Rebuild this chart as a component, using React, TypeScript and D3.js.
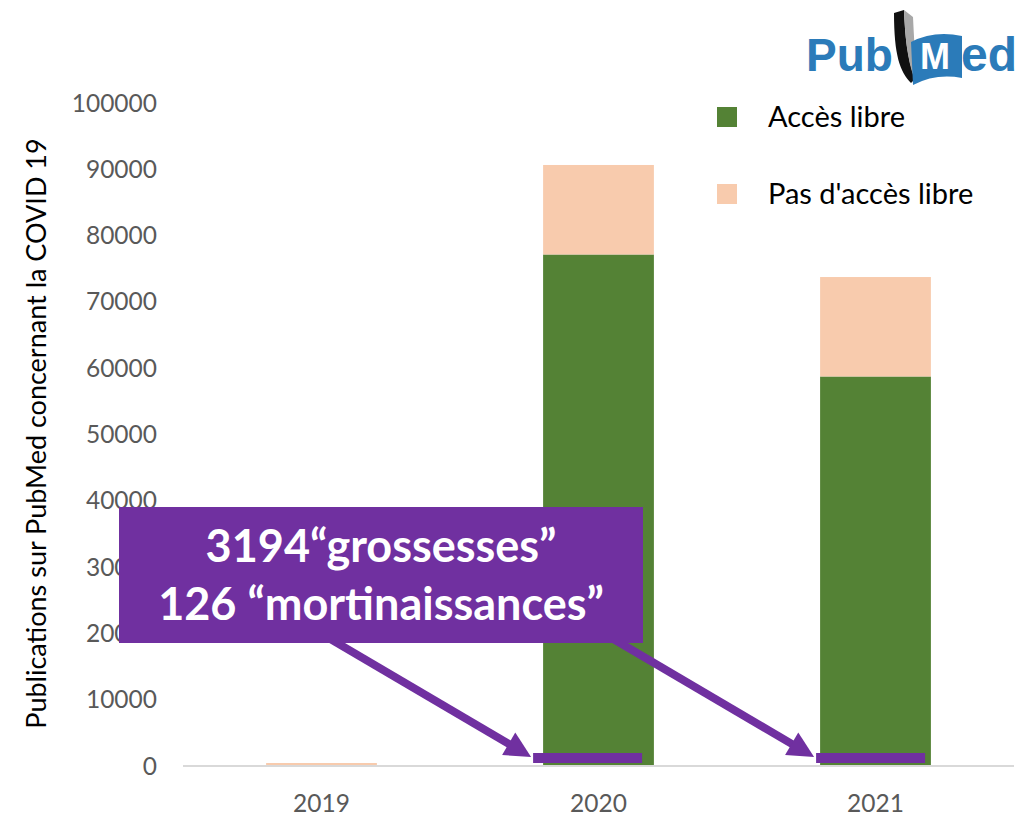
import React from 'react';
import * as d3 from 'd3';

// ---------- data ----------
const years = ['2019', '2020', '2021'];
const openAccess = [0, 77000, 58600];
const notOpenAccess = [300, 13500, 15000];
const seriesKeys = ['open', 'closed'];
const seriesNames = ['Accès libre', "Pas d'accès libre"];
const seriesColors = ['#548235', '#F8CBAD'];
const yTicks = [0, 10000, 20000, 30000, 40000, 50000, 60000, 70000, 80000, 90000, 100000];
const yTitle = 'Publications sur PubMed concernant la COVID 19';
const calloutLines = ['3194“grossesses”', '126 “mortinaissances”'];
const markedYears = ['2020', '2021'];

const W = 1025;
const H = 815;
const FONT = 'Lato, Carlito, Calibri, "Open Sans", sans-serif';
const PURPLE = '#7030A0';

export default function App() {
  const rows = years.map((y, i) => ({ year: y, open: openAccess[i], closed: notOpenAccess[i] }));
  const stack = d3.stack<any>().keys(seriesKeys)(rows);

  const x = d3.scaleBand<string>().domain(years).range([183, 1014]).paddingInner(0.6).paddingOuter(0.3);
  const y = d3.scaleLinear().domain([0, 100000]).range([765, 102]);
  const bw = x.bandwidth();

  // annotation markers & arrows (hand-drawn shapes in the original)
  const markerOffsets = [-10, -4];
  const arrows = markedYears.map((yr, i) => {
    const x0 = (x(yr) as number) + markerOffsets[i];
    const tipX = x0 - 2;
    const tipY = 757;
    const dx = 194, dy = 114;
    const len = Math.hypot(dx, dy);
    const ux = dx / len, uy = dy / len;
    const headLen = 26, headHalf = 13;
    const baseX = tipX - ux * headLen, baseY = tipY - uy * headLen;
    const px = -uy, py = ux;
    const startX = tipX - ux * 330, startY = tipY - uy * 330;
    return {
      x0,
      line: { x1: startX, y1: startY, x2: baseX + ux * 2, y2: baseY + uy * 2 },
      head: `M${tipX},${tipY} L${baseX + px * headHalf},${baseY + py * headHalf} L${baseX - px * headHalf},${baseY - py * headHalf} Z`,
    };
  });

  return (
    <svg width={W} height={H} style={{ position: 'absolute', left: 0, top: 0, background: '#fff' }} fontFamily={FONT}>
      <rect x={0} y={0} width={W} height={H} fill="#fff" />

      {/* y tick labels */}
      {yTicks.map((t) => (
        <text key={t} x={157} y={y(t)} textAnchor="end" dominantBaseline="central" fontSize={24.5} fill="#595959">
          {t}
        </text>
      ))}

      {/* y axis title */}
      <text
        transform={`translate(35,${(y(0) + y(100000)) / 2}) rotate(-90)`}
        textAnchor="middle"
        dominantBaseline="central"
        fontSize={27}
        fill="#000"
      >
        {yTitle}
      </text>

      {/* bars */}
      {stack.map((s, si) =>
        s.map((d: any, i: number) => (
          <rect
            key={`${si}-${i}`}
            x={x(years[i])}
            y={y(d[1])}
            width={bw}
            height={Math.max(0, y(d[0]) - y(d[1]))}
            fill={seriesColors[si]}
          />
        ))
      )}

      {/* baseline */}
      <line x1={183} x2={1014} y1={766} y2={766} stroke="#D9D9D9" strokeWidth={2} />

      {/* x labels */}
      {years.map((yr) => (
        <text key={yr} x={(x(yr) as number) + bw / 2} y={802} textAnchor="middle" dominantBaseline="central" fontSize={24.5} fill="#595959">
          {yr}
        </text>
      ))}

      {/* legend */}
      {seriesNames.map((n, i) => (
        <g key={n} transform={`translate(717,${107 + i * 77})`}>
          <rect x={0} y={0} width={20} height={20} fill={seriesColors[i]} />
          <text x={51} y={8} dominantBaseline="central" fontSize={29} fill="#000">
            {n}
          </text>
        </g>
      ))}

      {/* arrows */}
      {arrows.map((a, i) => (
        <g key={i}>
          <line {...a.line} stroke={PURPLE} strokeWidth={8} />
          <path d={a.head} fill={PURPLE} />
          <rect x={a.x0} y={753} width={109} height={10} fill={PURPLE} />
        </g>
      ))}

      {/* callout box */}
      <rect x={119} y={507} width={524} height={136} fill={PURPLE} />
      {calloutLines.map((l, i) => (
        <text key={i} x={381} y={562 + i * 58} textAnchor="middle" fontSize={45} fontWeight={700} fill="#fff">
          {l}
        </text>
      ))}

      {/* PubMed logo */}
      <g fontFamily='"Liberation Sans", Arial, sans-serif' fontWeight={700}>
        <text x={806} y={71} fontSize={46} fill="#2B7BB9">Pub</text>
        <path d="M894,13 L904,10 C905,35 907,58 915,79 L911,83 C900,72 894,55 894,13 Z" fill="#111" />
        <path d="M904,10 L913,17 C914,38 915,56 917,72 L914,78 C907,58 905,35 904,10 Z" fill="#A8A8A8" />
        <path d="M911,42 Q934,30 962,36 L962,78 Q936,73 913,85 Z" fill="#2B7BB9" />
        <text x={920} y={69} fontSize={36} fill="#fff">M</text>
        <text x={961} y={71} fontSize={48} fill="#2B7BB9">ed</text>
      </g>
    </svg>
  );
}
